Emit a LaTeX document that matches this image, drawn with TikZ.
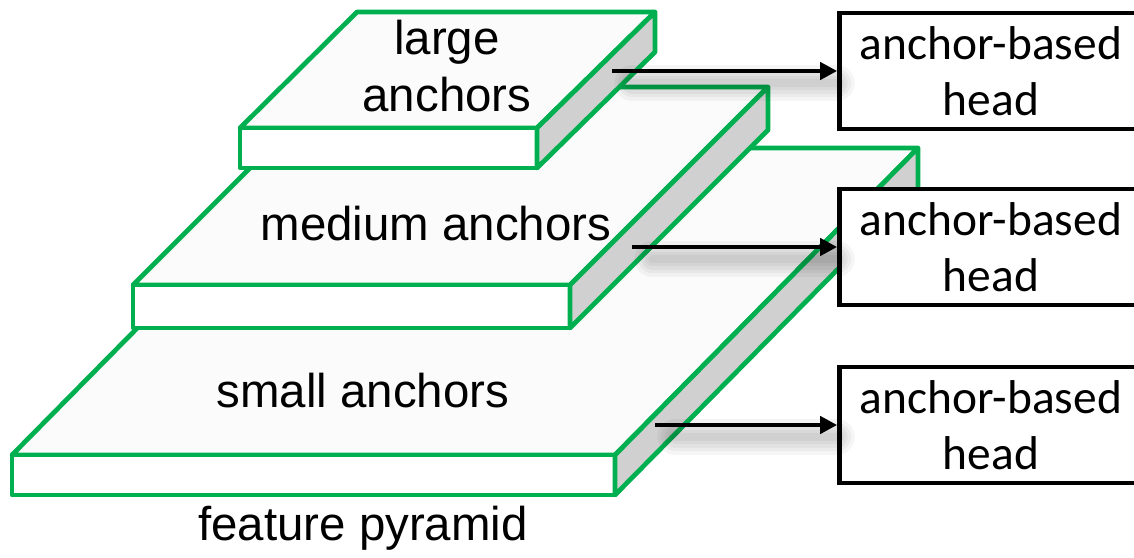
\documentclass[tikz,border=0pt]{standalone}
\usepackage{fontspec}
\setmainfont{Liberation Sans}
\newfontfamily\headfont{Carlito}
\usetikzlibrary{arrows.meta}
\definecolor{slabgreen}{RGB}{0,176,80}
\definecolor{sidegray}{RGB}{208,208,208}

\begin{document}
\begin{tikzpicture}[x=0.02cm, y=-0.02cm,
    slab/.style={draw=slabgreen, line width=2.7pt, line join=round},
    topface/.style={slab, fill=white!98.5!black},
    frontface/.style={slab, fill=white},
    sideface/.style={slab, fill=sidegray},
    level/.style={font=\fontsize{27}{32.4}\selectfont, align=center},
    headbox/.style={draw, line width=2.7pt, fill=white, minimum width=6.06cm, minimum height=2.32cm, align=center, font=\headfont\fontsize{27}{32}\selectfont},
    line/.style={-{Triangle[length=0.34cm, width=0.34cm]}, line width=2.8pt},
    haze/.style={line width=#1pt, black, opacity=0.04, line cap=round}]
\useasboundingbox (0,0) rectangle (1134,558);
\clip (0,0) rectangle (1134,558);
% bottom level
\draw[topface] (12,455) -- (315,148) -- (918,148) -- (615,455) -- cycle;
\draw[frontface] (12,455) rectangle (615,495);
\draw[sideface] (615,455) -- (918,148) -- (918,188) -- (615,495) -- cycle;
% middle level
\draw[topface] (133,285) -- (331,87) -- (768,87) -- (570,285) -- cycle;
\draw[frontface] (133,285) rectangle (570,328);
\draw[sideface] (570,285) -- (768,87) -- (768,130) -- (570,328) -- cycle;
% top level
\draw[topface] (240,128) -- (357,12) -- (655,12) -- (537,128) -- cycle;
\draw[frontface] (240,128) rectangle (537,168);
\draw[sideface] (537,128) -- (655,12) -- (655,52) -- (537,168) -- cycle;
% labels
\node[level] (large) at (447,66.5) {large\\anchors};
\node[level, anchor=base] (medium) at (436,240) {medium anchors};
\node[level, anchor=base] (small) at (363,407) {small anchors};
\node[level, anchor=base] (pyramid) at (363,540) {feature pyramid};
% heads
\coordinate (lout) at (612,71);
\coordinate (mout) at (632,247);
\coordinate (sout) at (655,425);
\node[headbox] (lhead) at (991,71) {anchor-based\\head};
\node[headbox] (mhead) at (991,247) {anchor-based\\head};
\node[headbox] (shead) at (991,425) {anchor-based\\head};
\begin{scope}[transform canvas={yshift=-0.24cm}]
\foreach \a/\b in {lout/lhead, mout/mhead, sout/shead}
  \foreach \w in {20,16,...,4}
    \draw[haze=\w] ([xshift=0.4cm]\a) -- (\b.west);
\end{scope}
\draw[line] (lout) -- (lhead);
\draw[line] (mout) -- (mhead);
\draw[line] (sout) -- (shead);
\end{tikzpicture}
\end{document}
